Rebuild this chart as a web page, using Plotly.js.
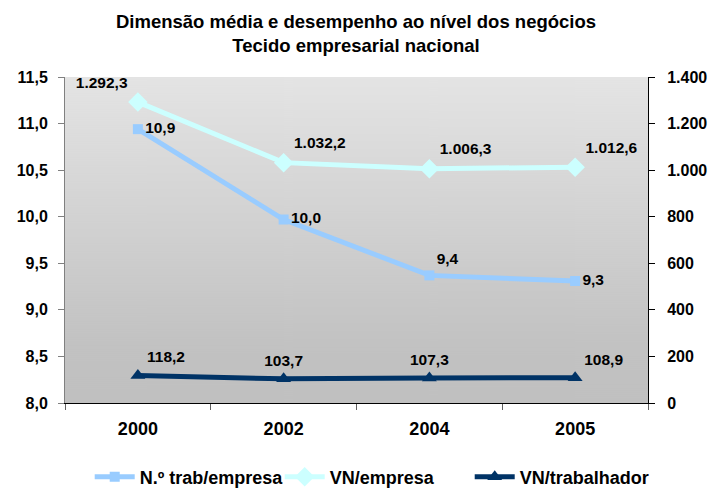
<!DOCTYPE html>
<html>
<head>
<meta charset="utf-8">
<script src="https://cdn.plot.ly/plotly-3.0.1.min.js"></script>
<style>
  html, body { margin: 0; padding: 0; background: #ffffff; }
  #chart { width: 712px; height: 492px; }
</style>
</head>
<body>
<div id="chart"></div>
<script>
// ---- data ----
const years = ['2000', '2002', '2004', '2005'];
const trabPorEmpresa = [10.94, 9.97, 9.37, 9.31];          // left axis
const vnPorEmpresa = [1292.3, 1032.2, 1006.3, 1012.6];     // right axis
const vnPorTrabalhador = [118.2, 103.7, 107.3, 108.9];     // right axis
const seriesNames = ['N.º trab/empresa', 'VN/empresa', 'VN/trabalhador'];
const chartTitle = 'Dimensão média e desempenho ao nível dos negócios<br>Tecido empresarial nacional';

// ---- gradient background for plot area ----
function gradientURL() {
  const c = document.createElement('canvas');
  c.width = 4; c.height = 326;
  const g = c.getContext('2d');
  const grd = g.createLinearGradient(0, 0, 0, 326);
  grd.addColorStop(0, '#e4e4e4');
  grd.addColorStop(0.82, '#c2c2c2');
  grd.addColorStop(1, '#c0c0c0');
  g.fillStyle = grd;
  g.fillRect(0, 0, 4, 326);
  return c.toDataURL('image/png');
}

const FONT = 'Liberation Sans, Arial, sans-serif';
const labelFont = { family: FONT, size: 15.5, color: '#000000', weight: 'bold' };

const traces = [
  {
    x: years, y: trabPorEmpresa, name: seriesNames[0], yaxis: 'y',
    type: 'scatter', mode: 'lines+markers+text',
    line: { color: '#99ccff', width: 5 },
    marker: { symbol: 'square', size: 10, color: '#99ccff' },
    texttemplate: '%{y:.1f}',
    textposition: ['middle right', 'middle right', 'top right', 'middle right'],
    textfont: labelFont, cliponaxis: false
  },
  {
    x: years, y: vnPorEmpresa, name: seriesNames[1], yaxis: 'y2',
    type: 'scatter', mode: 'lines+markers+text',
    line: { color: '#ccffff', width: 5 },
    marker: { symbol: 'diamond', size: 15, color: '#ccffff' },
    texttemplate: '%{y:,.1f}',
    textposition: ['top left', 'top right', 'top right', 'top right'],
    textfont: labelFont, cliponaxis: false
  },
  {
    x: years, y: vnPorTrabalhador, name: seriesNames[2], yaxis: 'y2',
    type: 'scatter', mode: 'lines+markers+text',
    line: { color: '#003366', width: 5 },
    marker: { symbol: 'triangle-up', size: 13, color: '#003366' },
    texttemplate: '%{y:,.1f}',
    textposition: ['top right', 'top center', 'top center', 'top right'],
    textfont: labelFont, cliponaxis: false
  }
];

const yTickFont = { family: FONT, size: 16, color: '#000000', weight: 'bold' };
const xTickFont = { family: FONT, size: 18, color: '#000000', weight: 'bold' };

const layout = {
  width: 712, height: 492,
  separators: ',.',
  margin: { l: 65, r: 64, t: 77, b: 89, autoexpand: false },
  paper_bgcolor: '#ffffff',
  plot_bgcolor: 'rgba(0,0,0,0)',
  title: {
    text: chartTitle,
    font: { family: FONT, size: 18.5, color: '#000000', weight: 'bold' },
    x: 0.5, xanchor: 'center', xref: 'container',
    y: 0.944, yanchor: 'middle', yref: 'container'
  },
  showlegend: true,
  legend: {
    orientation: 'h', xref: 'container', x: 0.126, xanchor: 'left',
    yref: 'container', y: 0.0305, yanchor: 'middle',
    font: { family: FONT, size: 18, color: '#000000', weight: 'bold' },
    traceorder: 'normal', itemwidth: 40, entrywidth: 135,
    bgcolor: 'rgba(0,0,0,0)'
  },
  xaxis: {
    type: 'category', tickson: 'boundaries', range: [-0.5, 3.5],
    showline: true, linecolor: '#000000', linewidth: 1,
    ticks: 'outside', ticklen: 6, tickcolor: '#606060',
    ticklabelstandoff: 9,
    tickfont: xTickFont, showgrid: false, zeroline: false,
    fixedrange: true
  },
  yaxis: {
    range: [8, 11.5], dtick: 0.5, tick0: 8, tickformat: '.1f',
    showline: true, linecolor: '#808080', linewidth: 1,
    ticks: 'outside', ticklen: 6, tickcolor: '#808080',
    ticklabelstandoff: 7,
    tickfont: yTickFont, showgrid: false, zeroline: false
  },
  yaxis2: {
    overlaying: 'y', side: 'right',
    range: [0, 1400], dtick: 200, tick0: 0, tickformat: ',d', separatethousands: true,
    showline: true, linecolor: '#000000', linewidth: 1,
    ticks: 'outside', ticklen: 6, tickcolor: '#000000',
    ticklabelstandoff: 9,
    tickfont: yTickFont, showgrid: false, zeroline: false
  },
  images: [{
    source: gradientURL(), xref: 'paper', yref: 'paper',
    x: 0, y: 1, sizex: 1, sizey: 1, xanchor: 'left', yanchor: 'top',
    sizing: 'stretch', layer: 'below'
  }]
};

Plotly.newPlot('chart', traces, layout, { staticPlot: true, displayModeBar: false });
</script>
</body>
</html>
